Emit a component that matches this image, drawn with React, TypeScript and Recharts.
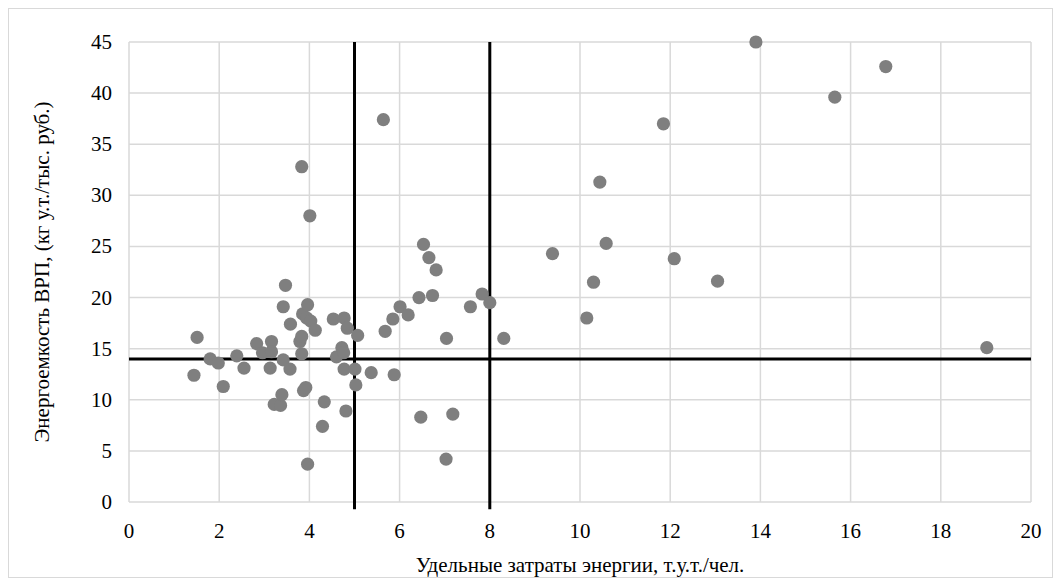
import {
  ScatterChart,
  Scatter,
  XAxis,
  YAxis,
  CartesianGrid,
  ReferenceLine,
} from "recharts";

// Удельные затраты энергии (т.у.т./чел.) и энергоемкость ВРП (кг у.т./тыс. руб.)
const energyPerCapita = [
  1.44, 1.51, 1.8, 1.98, 2.09, 2.39, 2.55, 2.83, 2.96, 3.13, 3.16, 3.16, 3.22,
  3.36, 3.39, 3.42, 3.42, 3.47, 3.57, 3.58, 3.79, 3.83, 3.83, 3.83, 3.85, 3.87,
  3.92, 3.94, 3.96, 3.96, 4.01, 4.03, 4.13, 4.29, 4.33, 4.53, 4.6, 4.72, 4.76,
  4.77, 4.77, 4.81, 4.84, 5.01, 5.03, 5.07, 5.37, 5.64, 5.68, 5.85, 5.88, 6.01,
  6.19, 6.43, 6.47, 6.53, 6.65, 6.73, 6.81, 7.03, 7.04, 7.18, 7.57, 7.83, 8.0,
  8.31, 9.39, 10.15, 10.3, 10.44, 10.58, 11.85, 12.09, 13.05, 13.9, 15.65,
  16.78, 19.02,
];
const energyIntensity = [
  12.4, 16.1, 14.0, 13.6, 11.3, 14.3, 13.1, 15.5, 14.6, 13.1, 15.7, 14.7, 9.55,
  9.45, 10.5, 13.9, 19.1, 21.2, 13.0, 17.4, 15.7, 16.2, 14.5, 32.8, 18.4, 10.9,
  11.2, 18.0, 19.3, 3.7, 28.0, 17.7, 16.8, 7.4, 9.8, 17.9, 14.2, 15.1, 14.6,
  18.0, 13.0, 8.9, 17.0, 13.0, 11.45, 16.3, 12.65, 37.4, 16.7, 17.9, 12.45,
  19.1, 18.3, 20.0, 8.3, 25.2, 23.9, 20.2, 22.7, 4.2, 16.0, 8.6, 19.1, 20.35,
  19.5, 16.0, 24.3, 18.0, 21.5, 31.3, 25.3, 37.0, 23.8, 21.6, 45.0, 39.6, 42.6,
  15.1,
];

const xTicks = [0, 2, 4, 6, 8, 10, 12, 14, 16, 18, 20];
const yTicks = [0, 5, 10, 15, 20, 25, 30, 35, 40, 45];

const xThresholds = [5, 8];
const yThreshold = 14;

const points = energyPerCapita.map((x, i) => ({ x, y: energyIntensity[i] }));

const font = "Liberation Serif";
const titleStyle = { fill: "#000", fontSize: 21, fontFamily: font };

const XTick = ({ x, y, payload }: any) => (
  <text
    x={x}
    y={y}
    dy={16}
    textAnchor="middle"
    fill="#000"
    fontSize={21}
    fontFamily={font}
  >
    {payload.value}
  </text>
);

const YTick = ({ x, y, payload }: any) => (
  <text
    x={x}
    y={y}
    dy={7}
    textAnchor="end"
    fill="#000"
    fontSize={21}
    fontFamily={font}
  >
    {payload.value}
  </text>
);

const Dot = (props: any) => (
  <circle cx={props.cx} cy={props.cy} r={6.6} fill="#7f7f7f" />
);

export default function App() {
  return (
    <div
      style={{
        width: 1043,
        height: 568,
        border: "1px solid #d9d9d9",
        background: "#fff",
        fontFamily: font,
      }}
    >
      <ScatterChart
        width={1043}
        height={568}
        margin={{ top: 33, right: 21, bottom: 0, left: 0 }}
      >
        <CartesianGrid stroke="#d9d9d9" strokeWidth={1.5} />
        <XAxis
          type="number"
          dataKey="x"
          domain={[0, 20]}
          ticks={xTicks}
          axisLine={false}
          tickLine={false}
          tickSize={0}
          tickMargin={20}
          tick={<XTick />}
          height={75}
          label={{
            value: "Удельные затраты энергии, т.у.т./чел.",
            position: "insideBottom",
            offset: 5,
            style: titleStyle,
          }}
        />
        <YAxis
          type="number"
          dataKey="y"
          domain={[0, 45]}
          ticks={yTicks}
          axisLine={false}
          tickLine={false}
          tickSize={0}
          tickMargin={17}
          tick={<YTick />}
          width={120}
          label={{
            value: "Энергоемкость ВРП, (кг у.т./тыс. руб.)",
            angle: -90,
            position: "center",
            dx: -27,
            style: { ...titleStyle, textAnchor: "middle" },
          }}
        />
        {xThresholds.map((v) => (
          <ReferenceLine
            key={v}
            segment={[
              { x: v, y: -0.7 },
              { x: v, y: 45 },
            ]}
            ifOverflow="visible"
            stroke="#000"
            strokeWidth={3}
          />
        ))}
        <ReferenceLine y={yThreshold} stroke="#000" strokeWidth={3} />
        <Scatter data={points} shape={Dot} isAnimationActive={false} />
      </ScatterChart>
    </div>
  );
}
